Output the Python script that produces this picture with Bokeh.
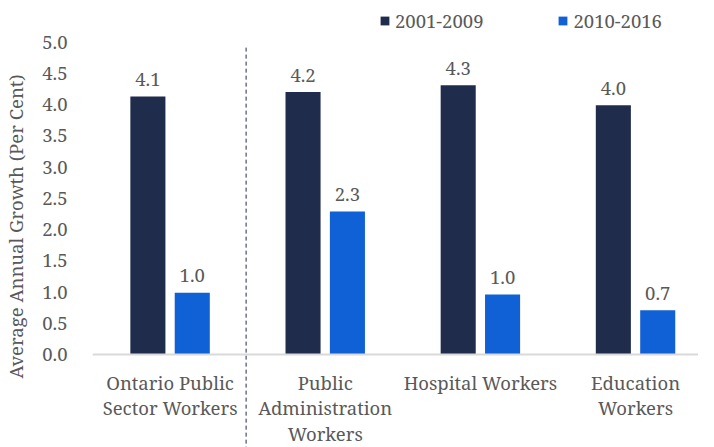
from bokeh.plotting import figure
from bokeh.models import Range1d, FixedTicker, PrintfTickFormatter, Span, ColumnDataSource
from bokeh.transform import dodge
from bokeh.core.properties import value
from bokeh.embed import file_html
from bokeh.resources import INLINE

# ---- data ----
categories = ["Ontario Public\nSector Workers",
              "Public\nAdministration\nWorkers",
              "Hospital Workers",
              "Education\nWorkers"]
series_names = ["2001-2009", "2010-2016"]
growth_2001_2009 = [4.13, 4.20, 4.31, 3.99]
growth_2010_2016 = [0.99, 2.29, 0.96, 0.71]
y_ticks = [0.0, 0.5, 1.0, 1.5, 2.0, 2.5, 3.0, 3.5, 4.0, 4.5, 5.0]
y_title = "Average Annual Growth  (Per Cent)"

# ---- layout ----
W, H = 698, 447
LEFT = 84
PX_CAT = 157.2
PX_UNIT = 62.5
ZERO_PX = 354
x_start = -0.5
x_end = x_start + (W - LEFT) / PX_CAT
y_end = ZERO_PX / PX_UNIT
y_start = -(H - ZERO_PX) / PX_UNIT

DARK = "#1f2c4c"
BLUE = "#1060d6"
TXT = "#595959"
FONT = "Noto Serif"
FS = "18.5px"

src = ColumnDataSource(dict(
    x=list(range(len(categories))),
    cat=categories,
    v1=growth_2001_2009,
    v2=growth_2010_2016,
    l1=["%.1f" % v for v in growth_2001_2009],
    l2=["%.1f" % v for v in growth_2010_2016],
))

p = figure(width=W, height=H, output_backend="svg", toolbar_location=None,
           x_range=Range1d(x_start, x_end), y_range=Range1d(y_start, y_end),
           min_border_left=LEFT, min_border_right=0, min_border_top=0, min_border_bottom=0)
p.outline_line_color = None
p.xgrid.visible = False
p.ygrid.visible = False
p.xaxis.visible = False

ya = p.yaxis[0]
ya.ticker = FixedTicker(ticks=y_ticks)
ya.formatter = PrintfTickFormatter(format="%.1f")
ya.axis_line_color = None
ya.major_tick_line_color = None
ya.minor_tick_line_color = None
ya.major_label_text_font = FONT
ya.major_label_text_font_size = FS
ya.major_label_text_color = TXT
ya.major_label_standoff = 19
ya.axis_label = y_title
ya.axis_label_text_font = FONT
ya.axis_label_text_font_size = FS
ya.axis_label_text_font_style = "normal"
ya.axis_label_text_color = TXT
ya.axis_label_standoff = 11

OFF = 0.143
BW = 0.226

p.vbar(x=dodge("x", -OFF, range=p.x_range), top="v1", width=BW, source=src,
       fill_color=DARK, line_color=None, legend_label=series_names[0])
p.vbar(x=dodge("x", OFF, range=p.x_range), top="v2", width=BW, source=src,
       fill_color=BLUE, line_color=None, legend_label=series_names[1])

# x axis line
p.add_layout(Span(location=0, dimension="width", line_color="#d9d9d9", line_width=2))

# divider
div_x = 0.5 - 0.01
p.segment(x0=[div_x], y0=[4.91], x1=[div_x], y1=[y_start],
          line_color=DARK, line_width=1, line_dash="4 3")

common = dict(text_font=value(FONT), text_font_size=FS, text_color=TXT,
              text_align="center", source=src)
p.text(x=dodge("x", -OFF, range=p.x_range), y="v1", text="l1",
       y_offset=-17, text_baseline="alphabetic", **common)
p.text(x=dodge("x", OFF, range=p.x_range), y="v2", text="l2",
       y_offset=-17, text_baseline="alphabetic", **common)
p.text(x="x", y=0, text="cat", y_offset=15, text_baseline="top",
       text_line_height=1.03, **common)

lg = p.legend[0]
lg.orientation = "horizontal"
lg.location = (287, 414)
lg.glyph_width = 11
lg.glyph_height = 11
lg.label_standoff = 5
lg.spacing = 74
lg.padding = 0
lg.margin = 0
lg.border_line_color = None
lg.background_fill_alpha = 0
lg.label_text_font = FONT
lg.label_text_font_size = FS
lg.label_text_color = TXT

open("out.html", "w").write(file_html(p, INLINE))
